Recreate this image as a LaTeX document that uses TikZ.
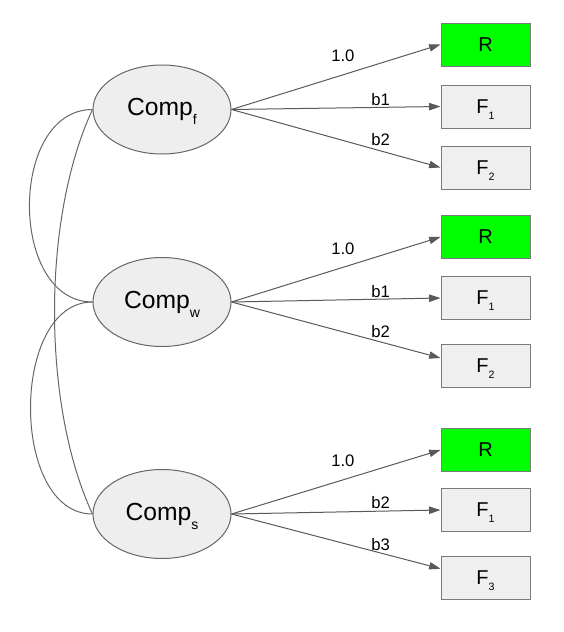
\documentclass[tikz,border=0pt]{standalone}
\usepackage{fontspec}
\setmainfont{Liberation Sans}
\usetikzlibrary{positioning, arrows.meta,
shapes.geometric % for the ellipses
}
\definecolor{linegray}{HTML}{666666}
\definecolor{arrowgray}{HTML}{595959}
\definecolor{compfill}{HTML}{EEEEEE}
\definecolor{boxfill}{HTML}{EFEFEF}
\definecolor{boxgray}{HTML}{7A7A7A}
\definecolor{refgreen}{HTML}{00FF00}
\begin{document}
\begin{tikzpicture}[x=0.75pt, y=-0.75pt, >={Triangle[length=8.5pt, width=5.5pt]},
  comp/.style={shape=ellipse, draw=linegray, fill=compfill, line width=0.75pt, minimum width=103.5pt, minimum height=66.75pt, inner sep=0pt, font=\fontsize{18.5}{21}\selectfont},
  obs/.style={draw=boxgray, fill=boxfill, line width=0.75pt, minimum width=66.75pt, minimum height=32.25pt, inner sep=0pt, font=\fontsize{15}{18}\selectfont},
  ref/.style={obs, fill=refgreen},
  lbl/.style={font=\fontsize{12.5}{14}\selectfont, inner sep=0pt},
  every edge/.style={draw=arrowgray, line width=0.75pt, ->}]

\useasboundingbox (0,0) rectangle (564,632);

\node[comp] (e0) at (162,109.5) {Comp\raisebox{-7pt}[0pt][0pt]{\fontsize{10.5}{11}\selectfont f}};
\node[comp] (e1) at (162,302) {Comp\raisebox{-7pt}[0pt][0pt]{\fontsize{10.5}{11}\selectfont w}};
\node[comp] (e2) at (162,514) {Comp\raisebox{-7pt}[0pt][0pt]{\fontsize{10.5}{11}\selectfont s}};

\node[ref] (b00) at (485.5,44.5) {R};
\node[obs, below=13.5pt of b00] (b01) {F\raisebox{-4.5pt}[0pt][0pt]{\fontsize{8}{8}\selectfont 1}};
\node[obs, below=12.75pt of b01] (b02) {F\raisebox{-4.5pt}[0pt][0pt]{\fontsize{8}{8}\selectfont 2}};

\node[ref] (b10) at (485.5,237) {R};
\node[obs, below=12.75pt of b10] (b11) {F\raisebox{-4.5pt}[0pt][0pt]{\fontsize{8}{8}\selectfont 1}};
\node[obs, below=18pt of b11] (b12) {F\raisebox{-4.5pt}[0pt][0pt]{\fontsize{8}{8}\selectfont 2}};

\node[ref] (b20) at (485.5,450) {R};
\node[obs, below=12pt of b20] (b21) {F\raisebox{-4.5pt}[0pt][0pt]{\fontsize{8}{8}\selectfont 1}};
\node[obs, below=18pt of b21] (b22) {F\raisebox{-4.5pt}[0pt][0pt]{\fontsize{8}{8}\selectfont 3}};

\path (e0.east) edge node[lbl, pos=0.533, above=9.2pt] {1.0} (b00.west);
\path (e0.east) edge node[lbl, pos=0.714, above=1pt] {b1} (b01.west);
\path (e0.east) edge node[lbl, pos=0.714, above=3.7pt] {b2} (b02.west);
\path (e1.east) edge node[lbl, pos=0.533, above=9.2pt] {1.0} (b10.west);
\path (e1.east) edge node[lbl, pos=0.714, above=1pt] {b1} (b11.west);
\path (e1.east) edge node[lbl, pos=0.714, above=2.7pt] {b2} ([yshift=6pt]b12.west);
\path (e2.east) edge node[lbl, pos=0.533, above=9.2pt] {1.0} (b20.west);
\path (e2.east) edge node[lbl, pos=0.714, above=1.6pt] {b2} (b21.west);
\path (e2.east) edge node[lbl, pos=0.714, above=1.4pt] {b3} ([yshift=7pt]b22.west);

% correlations
\draw[linegray, line width=0.75pt] (e0.west) to[out=180, in=180, looseness=1.12] (e1.west);
\draw[linegray, line width=0.75pt] (e1.west) to[out=180, in=180, looseness=1] (e2.west);
\draw[linegray, line width=0.75pt] (e0.west) to[out=245, in=115, looseness=0.76] (e2.west);

\end{tikzpicture}
\end{document}
